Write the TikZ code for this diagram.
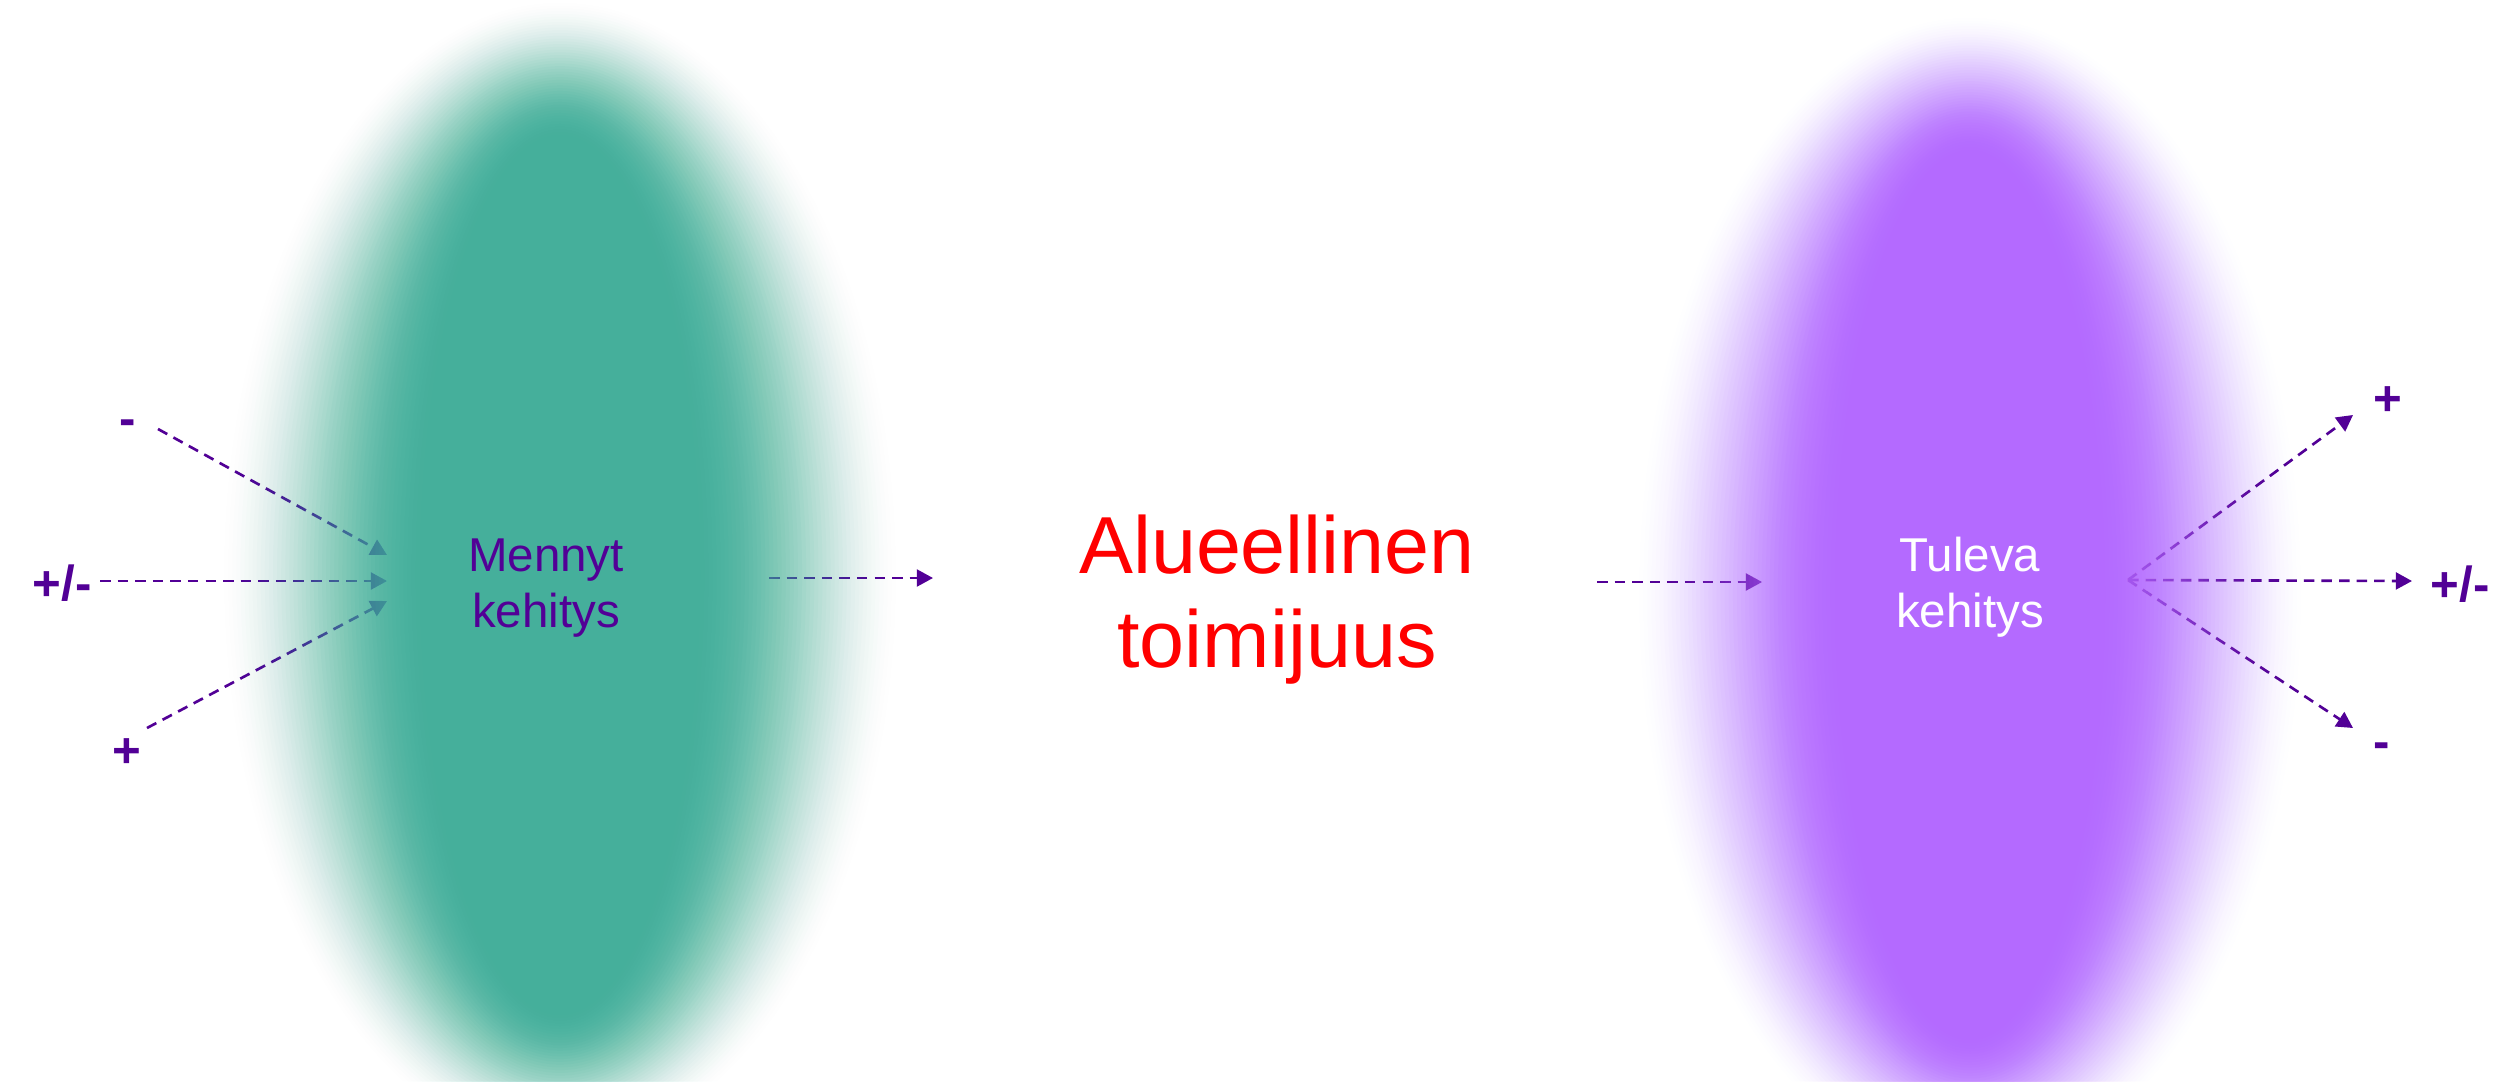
\documentclass[tikz,border=0pt]{standalone}
\usepackage{fontspec}
\setmainfont{Liberation Sans}
\usetikzlibrary{arrows.meta}
\definecolor{tealc}{RGB}{62,175,155}
\definecolor{violc}{RGB}{180,102,255}
\definecolor{inkc}{RGB}{82,0,150}
\definecolor{redc}{RGB}{255,0,0}
\newcommand\twolines[2]{\vtop{\halign{\hfil##\hfil\cr#1\cr#2\cr}}}
% soft-edged ellipse: x, y, rx, ry, fade x, fade y, colour, core opacity
\newcommand\softblob[8]{%
  \foreach \k in {1,...,50}{%
    \pgfmathsetmacro\sbT{\k/50}%
    \pgfmathsetmacro\sbP{(\k-1)/50}%
    \pgfmathsetmacro\sbC{#8*(3*\sbT*\sbT-2*\sbT*\sbT*\sbT)}%
    \pgfmathsetmacro\sbCp{#8*(3*\sbP*\sbP-2*\sbP*\sbP*\sbP)}%
    \pgfmathsetmacro\sbA{1-(1-\sbC)/(1-\sbCp)}%
    \pgfmathsetmacro\sbS{(\k-1)/49}%
    \pgfmathsetmacro\sbRx{#3-\sbS*#5}%
    \pgfmathsetmacro\sbRy{#4-\sbS*#6}%
    \fill[#7, opacity=\sbA] (#1,#2) ellipse [x radius=\sbRx, y radius=\sbRy];
  }%
}
\tikzset{
  dasharrow/.style={draw=inkc, line width=0.75pt, dash pattern=on 3pt off 2pt,
    -{Triangle[length=4.6pt,width=4.8pt]}},
  lbl/.style={font=\fontsize{14}{16}\selectfont\bfseries, text=inkc, anchor=base, inner sep=0pt},
  txt/.style={font=\fontsize{13.5}{16.2}\selectfont, anchor=base, inner sep=0pt},
  bigtxt/.style={font=\fontsize{23}{27}\selectfont, text=redc, anchor=base, inner sep=0pt}
}
\begin{document}
\begin{tikzpicture}[x=0.01cm, y=-0.01cm]
  \fill[white] (0,0) rectangle (2509,1081);
  \useasboundingbox (0,0) rectangle (2509,1081);

  % end points of connectors
  \coordinate (s1) at (158,429);  \coordinate (t1) at (387,555);
  \coordinate (s2) at (100,581);  \coordinate (t2) at (387,581);
  \coordinate (s3) at (147,728);  \coordinate (t3) at (387,601);
  \coordinate (s4) at (769,578);  \coordinate (t4) at (933,578);
  \coordinate (s5) at (1597,582); \coordinate (t5) at (1762,582);
  \coordinate (o6) at (2128,580);
  \coordinate (t6) at (2353,415);
  \coordinate (t7) at (2412,581);
  \coordinate (t8) at (2353,728);

  % connectors (under the blobs)
  \draw[dasharrow] (s1) -- (t1);
  \draw[dasharrow] (s2) -- (t2);
  \draw[dasharrow] (s3) -- (t3);
  \draw[dasharrow] (s4) -- (t4);
  \draw[dasharrow] (s5) -- (t5);
  \draw[dasharrow] (o6) -- (t6);
  \draw[dasharrow] (o6) -- (t7);
  \draw[dasharrow] (o6) -- (t8);

  % soft ellipses
  \softblob{560}{575}{340}{575}{200}{135}{tealc}{0.93}
  \softblob{1970}{595}{335}{580}{200}{135}{violc}{0.93}

  % labels
  \node[lbl] (lminus) at (128,435) {-};
  \node[lbl] (lpm)    at (62,600)  {+/-};
  \node[lbl] (lplus)  at (127,767) {+};
  \node[lbl] (rplus)  at (2388,415) {+};
  \node[lbl] (rpm)    at (2460,601) {+/-};
  \node[lbl] (rminus) at (2382,758) {-};

  % texts
  \node[txt, text=inkc] (past) at (546,571) {\twolines{Mennyt}{kehitys}};
  \node[bigtxt] (agency) at (1277,573) {\twolines{Alueellinen}{toimijuus}};
  \node[txt, text=white] (future) at (1970,571) {\twolines{Tuleva}{kehitys}};
\end{tikzpicture}
\end{document}
